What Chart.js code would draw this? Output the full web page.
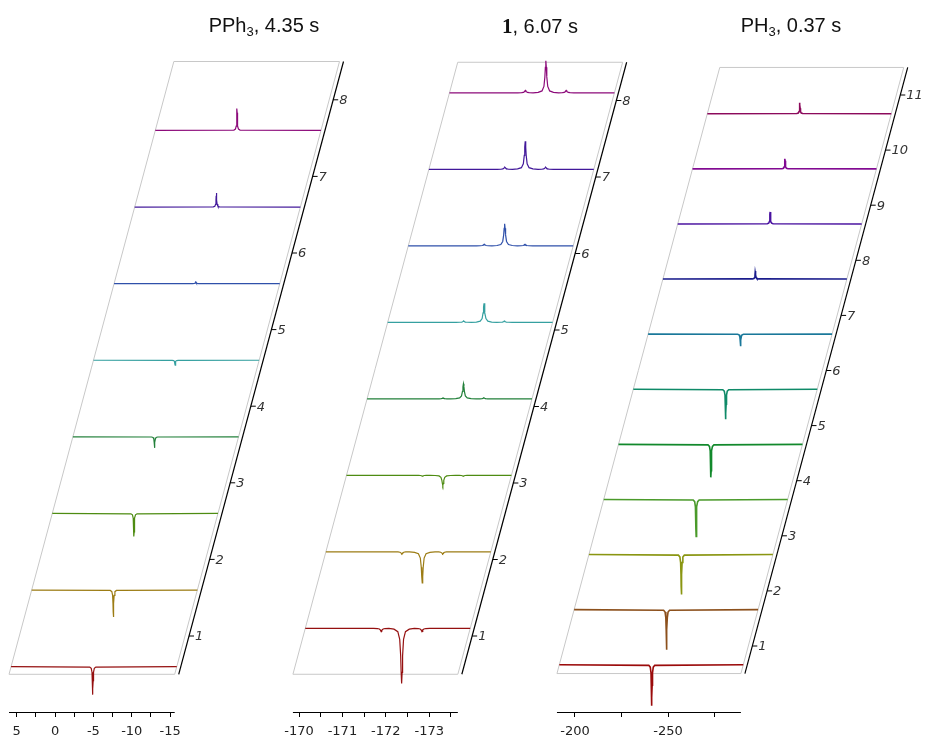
<!DOCTYPE html>
<html>
<head>
<meta charset="utf-8">
<script src="https://cdn.jsdelivr.net/npm/chart.js@4.4.1/dist/chart.umd.min.js"></script>
<style>
  html, body { margin: 0; padding: 0; background: #fff; }
  #lienzo { position: relative; width: 927px; height: 740px; overflow: hidden; }
  #lienzo canvas { position: absolute; left: 0; top: 0; }
  .titulo { position: absolute; top: 14px; width: 240px; text-align: center;
            font: 20px "Liberation Sans", sans-serif; color: #111; white-space: nowrap; }
  .titulo sub { font-size: 13px; vertical-align: -4px; line-height: 0; }
  .titulo b { font-family: "Liberation Serif", serif; font-weight: bold; font-size: 21px; }
</style>
</head>
<body>
<div id="lienzo">
  <canvas id="g1" width="927" height="740"></canvas>
  <canvas id="g2" width="927" height="740"></canvas>
  <canvas id="g3" width="927" height="740"></canvas>
  <div class="titulo" style="left:144px">PPh<sub>3</sub>, 4.35 s</div>
  <div class="titulo" style="left:420px"><b>1</b>, 6.07 s</div>
  <div class="titulo" style="left:671px">PH<sub>3</sub>, 0.37 s</div>
</div>
<script>
// ---- datos: PPh3 ----
const pph3Espectros = [1, 2, 3, 4, 5, 6, 7, 8];
const pph3Pico = -4.65;
const pph3Intensidad = [-28, -27, -23, -11, -5, 2.5, 14, 22];
const pph3Ticks = [5, 2.5, 0, -2.5, -5, -7.5, -10, -12.5, -15];
const pph3Etiquetas = [5, 0, -5, -10, -15];

// ---- datos: compuesto 1 ----
const c1Espectros = [1, 2, 3, 4, 5, 6, 7, 8];
const c1Pico = -172.08;
const c1Satelites = [-171.61, -172.55];
const c1Intensidad = [-55, -31, -10, 15, 19, 22, 28, 32];
const c1IntensidadSat = [-3, -2, -0.8, 1, 1.3, 1.6, 2, 2.5];
const c1Ticks = [-170, -170.5, -171, -171.5, -172, -172.5, -173, -173.5];
const c1Etiquetas = [-170, -171, -172, -173];

// ---- datos: PH3 ----
const ph3Espectros = [1, 2, 3, 4, 5, 6, 7, 8, 9, 10, 11];
const ph3Pico = -240;
const ph3Intensidad = [-41, -40, -40, -37, -33, -30, -12, 8, 12, 10, 11];
const ph3Ticks = [-200, -225, -250, -275];
const ph3Etiquetas = [-200, -250];

// colores (de abajo hacia arriba)
const colores8 = ['#951010', '#9c7c14', '#4e8c12', '#22803a', '#35a0a0', '#2f50aa', '#42189a', '#8c0a7a'];
const colores11 = ['#9b0b0b', '#8c501c', '#8a9612', '#4a9a2a', '#12892c', '#0f8a68', '#1a789a', '#1a1c8c', '#4a12a0', '#820a92', '#8c0a5c'];

// forma de línea (unidades de semiancho, altura relativa)
const formaPico = [[-8, 0.015], [-4, 0.06], [-2, 0.2], [-1, 0.5], [-0.5, 0.8], [0, 1],
                   [0.5, 0.8], [1, 0.5], [2, 0.2], [4, 0.06], [8, 0.015]];

const ABAJO = 712; // borde inferior del area del grafico
const cfgPorLienzo = {};

function puntosEspectro(cfg, k, picos) {
  const d = k + cfg.desfase;
  const corr = (d - cfg.frente) * cfg.cizallaPx / cfg.pxPpm;
  const pts = [[cfg.izq, 0], [cfg.der, 0]];
  picos.forEach(([pos, amp]) => {
    formaPico.forEach(([u, h]) => pts.push([pos + u * cfg.semiancho, amp * h]));
  });
  pts.sort((a, b) => b[0] - a[0]);
  return pts.map(([p, i]) => ({ x: p - corr, y: d + i / cfg.pxProf }));
}

function proyectar(chart, cfg, ppm, d) {
  const xs = chart.scales.x, ys = chart.scales.y;
  const corr = (d - cfg.frente) * cfg.cizallaPx / cfg.pxPpm;
  return { x: xs.getPixelForValue(ppm - corr), y: ys.getPixelForValue(d) };
}

const marco3d = {
  id: 'marco3d',
  beforeDatasetsDraw(chart) {
    const cfg = cfgPorLienzo[chart.canvas.id];
    const ctx = chart.ctx;
    const a = proyectar(chart, cfg, cfg.izq, cfg.frente);
    const b = proyectar(chart, cfg, cfg.der, cfg.frente);
    const c = proyectar(chart, cfg, cfg.der, cfg.fondo);
    const e = proyectar(chart, cfg, cfg.izq, cfg.fondo);
    ctx.save();
    ctx.strokeStyle = '#c8c8c8';
    ctx.lineWidth = 1;
    ctx.beginPath();
    ctx.moveTo(a.x, a.y); ctx.lineTo(b.x, b.y); ctx.lineTo(c.x, c.y); ctx.lineTo(e.x, e.y);
    ctx.closePath();
    ctx.stroke();
    ctx.restore();
  },
  afterDatasetsDraw(chart) {
    const cfg = cfgPorLienzo[chart.canvas.id];
    const ctx = chart.ctx;
    const off = 4;
    const b = proyectar(chart, cfg, cfg.der, cfg.frente);
    const c = proyectar(chart, cfg, cfg.der, cfg.fondo);
    ctx.save();
    ctx.strokeStyle = '#000';
    ctx.lineWidth = 1.2;
    ctx.beginPath();
    ctx.moveTo(b.x + off, b.y); ctx.lineTo(c.x + off, c.y);
    ctx.stroke();
    ctx.font = 'italic 13px "DejaVu Sans", sans-serif';
    ctx.fillStyle = '#333';
    ctx.textBaseline = 'middle';
    ctx.textAlign = 'left';
    ctx.lineWidth = 1;
    cfg.ticksProf.forEach(k => {
      const p = proyectar(chart, cfg, cfg.der, k);
      ctx.beginPath();
      ctx.moveTo(p.x + off, p.y); ctx.lineTo(p.x + off + 5, p.y);
      ctx.stroke();
      ctx.fillText(String(k), p.x + off + 6, p.y + 1);
    });
    // eje de desplazamiento químico (solo el tramo del frente)
    const a = proyectar(chart, cfg, cfg.izq, cfg.frente);
    const y = chart.chartArea.bottom + 0.5;
    ctx.beginPath();
    ctx.moveTo(a.x, y); ctx.lineTo(b.x, y);
    ctx.stroke();
    ctx.restore();
  }
};

function crearPanel(id, cfg, espectros, colores, picosDe, ticks, etiquetas, grosor) {
  cfgPorLienzo[id] = cfg;
  const datasets = espectros.map((k, n) => ({
    data: puntosEspectro(cfg, k, picosDe(n)),
    borderColor: colores[n],
    borderWidth: grosor,
    pointRadius: 0,
    tension: 0,
    fill: false
  }));
  const W = 927;
  return new Chart(document.getElementById(id), {
    type: 'line',
    data: { datasets },
    options: {
      responsive: false,
      animation: false,
      layout: { padding: 0 },
      plugins: { legend: { display: false }, tooltip: { enabled: false }, title: { display: false } },
      scales: {
        x: {
          type: 'linear',
          reverse: true,
          max: cfg.refPpm + cfg.refPx / cfg.pxPpm,
          min: cfg.refPpm - (W - cfg.refPx) / cfg.pxPpm,
          afterBuildTicks: s => { s.ticks = ticks.map(v => ({ value: v })); },
          afterFit: s => { s.height = 740 - ABAJO; },
          border: { display: false },
          grid: { drawOnChartArea: false, drawTicks: true, tickLength: 5, color: '#000' },
          ticks: {
            autoSkip: false, maxRotation: 0, minRotation: 0, padding: 7,
            color: '#222',
            font: { family: '"DejaVu Sans", sans-serif', size: 13 },
            callback: v => etiquetas.includes(v) ? String(v) : ''
          }
        },
        y: {
          type: 'linear',
          display: false,
          min: (cfg.y0 - ABAJO) / cfg.pxProf,
          max: cfg.y0 / cfg.pxProf
        }
      }
    },
    plugins: [marco3d]
  });
}

const cfg1 = { pxPpm: 7.67, refPpm: 5, refPx: 16.7, izq: 6.0, der: -15.6, y0: 712.6, pxProf: 76.6,
               cizallaPx: 20.6, desfase: -0.4, frente: 0.5, fondo: 8.5, semiancho: 0.05, ticksProf: pph3Espectros };
const cfg2 = { pxPpm: 43.4, refPpm: -170, refPx: 299, izq: -169.86, der: -173.66, y0: 712.5, pxProf: 76.5,
               cizallaPx: 20.6, desfase: 0.1, frente: 0.5, fondo: 8.5, semiancho: 0.022, ticksProf: c1Espectros };
const cfg3 = { pxPpm: 1.86, refPpm: -200, refPx: 575, izq: -190.3, der: -289.2, y0: 701.1, pxProf: 55.1,
               cizallaPx: 14.8, desfase: -0.34, frente: 0.5, fondo: 11.5, semiancho: 0.2, ticksProf: ph3Espectros };

crearPanel('g1', cfg1, pph3Espectros, colores8, n => [[pph3Pico, pph3Intensidad[n]]], pph3Ticks, pph3Etiquetas, 1.2);
crearPanel('g2', cfg2, c1Espectros, colores8,
  n => [[c1Pico, c1Intensidad[n]], [c1Satelites[0], c1IntensidadSat[n]], [c1Satelites[1], c1IntensidadSat[n]]],
  c1Ticks, c1Etiquetas, 1.2);
crearPanel('g3', cfg3, ph3Espectros, colores11, n => [[ph3Pico, ph3Intensidad[n]]], ph3Ticks, ph3Etiquetas, 1.6);
</script>
</body>
</html>
